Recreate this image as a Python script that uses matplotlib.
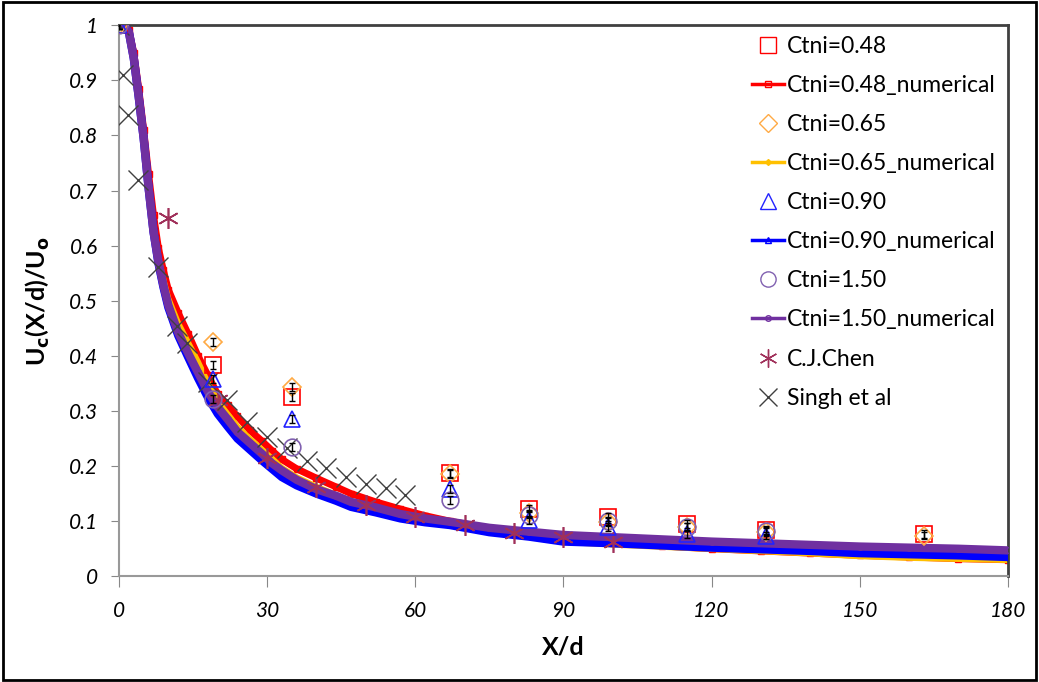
import numpy as np
import matplotlib.pyplot as plt
from matplotlib.lines import Line2D
from matplotlib.patches import Rectangle

plt.rcParams['font.family'] = ['Lato', 'DejaVu Sans']

# ---------------- data ----------------
x_exp = [0, 19, 35, 67, 83, 99, 115, 131, 163]
y_048 = [1.0, 0.383, 0.325, 0.187, 0.123, 0.108, 0.095, 0.084, 0.077]
y_065 = [1.0, 0.425, 0.344, 0.185, 0.114, 0.099, 0.090, 0.080, 0.074]
x_exp7 = [0, 19, 35, 67, 83, 99, 115, 131]
y_090 = [1.0, 0.358, 0.286, 0.159, 0.102, 0.090, 0.077, 0.074]
y_150 = [1.0, 0.322, 0.235, 0.138, 0.112, 0.100, 0.089, 0.082]

x_num = [0, 1, 2, 3, 4, 5, 6, 7, 8, 9, 10, 12, 14, 16, 18, 20, 22, 24, 26.5, 29, 31, 33,
         36, 40, 44, 47, 52, 57, 62, 67, 75, 83, 90, 100, 110, 120, 130, 140, 150, 160, 170, 180]
y_048_num = [1.0, 1.0, 0.992, 0.95, 0.885, 0.81, 0.73, 0.655, 0.595, 0.555, 0.52, 0.478, 0.44,
             0.40, 0.365, 0.33, 0.31, 0.29, 0.265, 0.245, 0.228, 0.212, 0.195, 0.178, 0.162,
             0.150, 0.135, 0.122, 0.110, 0.100, 0.087, 0.076, 0.066, 0.060, 0.055, 0.050,
             0.046, 0.042, 0.038, 0.035, 0.032, 0.030]
y_065_num = [1.0, 1.0, 0.99, 0.945, 0.878, 0.80, 0.715, 0.638, 0.58, 0.54, 0.505, 0.46, 0.425,
             0.39, 0.352, 0.318, 0.295, 0.272, 0.25, 0.23, 0.214, 0.197, 0.18, 0.163, 0.148,
             0.137, 0.123, 0.111, 0.101, 0.094, 0.081, 0.071, 0.062, 0.057, 0.053, 0.049,
             0.045, 0.041, 0.036, 0.033, 0.031, 0.029]
y_090_num = [1.0, 1.0, 0.988, 0.94, 0.87, 0.795, 0.705, 0.625, 0.568, 0.525, 0.488, 0.437, 0.398,
             0.36, 0.325, 0.295, 0.272, 0.25, 0.23, 0.21, 0.195, 0.18, 0.165, 0.150, 0.137,
             0.126, 0.116, 0.105, 0.098, 0.093, 0.080, 0.072, 0.063, 0.060, 0.056, 0.052,
             0.049, 0.046, 0.042, 0.040, 0.038, 0.035]
y_150_num = [1.0, 1.0, 0.988, 0.94, 0.87, 0.795, 0.705, 0.625, 0.57, 0.528, 0.492, 0.442, 0.405,
             0.37, 0.335, 0.307, 0.285, 0.262, 0.242, 0.222, 0.205, 0.192, 0.175, 0.158, 0.146,
             0.135, 0.125, 0.113, 0.105, 0.099, 0.088, 0.081, 0.075, 0.071, 0.067, 0.063,
             0.060, 0.057, 0.054, 0.052, 0.050, 0.047]

x_chen = [10, 20, 30, 40, 50, 60, 70, 80, 90, 100]
y_chen = [0.65, 0.32, 0.214, 0.162, 0.129, 0.107, 0.093, 0.078, 0.071, 0.062]

x_singh = [0, 0.9, 1.9, 3.9, 8, 11.7, 13.7, 18.1, 21.8, 26, 30, 34, 38, 42, 46, 50, 54, 58]
y_singh = [1.0, 0.91, 0.837, 0.719, 0.561, 0.455, 0.423, 0.353, 0.32, 0.28, 0.252, 0.232,
           0.21, 0.196, 0.18, 0.168, 0.16, 0.147]

err = 0.007

# ---------------- figure ----------------
fig = plt.figure(figsize=(10.39, 6.82), dpi=100)
ax = fig.add_axes([0.1145, 0.155, 0.8555, 0.808])

# experimental squares + numerical red
ax.errorbar(x_exp, y_048, yerr=err, fmt='none', ecolor='black', elinewidth=1, capsize=2.5, zorder=6)
ax.plot(x_exp, y_048, 's', mfc='none', mec='#ff0000', ms=12, mew=1.2, zorder=5)
ax.plot(x_num, y_048_num, '-', color='#ff0000', lw=5, zorder=2)
ax.plot(x_num, y_048_num, 's', mfc='none', mec='#ff0000', ms=4, zorder=2)

ax.errorbar(x_exp, y_065, yerr=err, fmt='none', ecolor='black', elinewidth=1, capsize=2.5, zorder=6)
ax.plot(x_exp, y_065, 'D', mfc='none', mec='#ffaa44', ms=9, mew=1.2, zorder=5)
ax.plot(x_num, y_065_num, '-', color='#ffc000', lw=4, zorder=2)

ax.errorbar(x_exp7, y_090, yerr=err, fmt='none', ecolor='black', elinewidth=1, capsize=2.5, zorder=6)
ax.plot(x_exp7, y_090, '^', mfc='none', mec='#2222ff', ms=12, mew=1.2, zorder=5)
ax.plot(x_num, y_090_num, '-', color='#0000ff', lw=6, zorder=3)

ax.errorbar(x_exp7, y_150, yerr=err, fmt='none', ecolor='black', elinewidth=1, capsize=2.5, zorder=6)
ax.plot(x_exp7, y_150, 'o', mfc='none', mec='#8060b0', ms=12, mew=1.2, zorder=5)
ax.plot(x_num, y_150_num, '-', color='#7030a0', lw=6, zorder=3)
ax.plot(x_num, y_150_num, 'o', mfc='none', mec='#7030a0', ms=4, zorder=3)

ax.plot(x_chen, y_chen, ls='none', marker=(6, 2, 0), ms=15, mec='#a0305a', mew=1.2, zorder=4)
ax.plot(x_singh, y_singh, 'x', ms=15, mec='#404040', mew=1.0, zorder=4)

ax.set_xlim(0, 180)
ax.set_ylim(0, 1)
ax.set_xticks(np.arange(0, 181, 30))
ax.set_yticks(np.arange(0, 1.01, 0.1))
ax.set_yticklabels(['0', '0.1', '0.2', '0.3', '0.4', '0.5', '0.6', '0.7', '0.8', '0.9', '1'])
for lab in ax.get_xticklabels() + ax.get_yticklabels():
    lab.set_fontstyle('italic')
    lab.set_fontsize(15)
ax.tick_params(axis='y', direction='out', length=6, color='#888888', pad=9)
ax.tick_params(axis='x', direction='out', length=8, color='#888888', pad=10)

for s in ['left', 'bottom']:
    ax.spines[s].set_color('#999999')
    ax.spines[s].set_linewidth(1.5)
for s in ['top', 'right']:
    ax.spines[s].set_color('#404040')
    ax.spines[s].set_linewidth(2)

ax.set_xlabel('X/d', fontsize=18, fontweight='bold', labelpad=10)
ax.set_ylabel(r'U$_\mathbf{c}$(X/d)/U$_\mathbf{o}$', fontsize=18, fontweight='bold', labelpad=12)

handles = [
    Line2D([], [], ls='none', marker='s', mfc='none', mec='#ff0000', ms=11),
    Line2D([], [], color='#ff0000', lw=2.5, marker='s', mfc='none', mec='#ff0000', ms=4),
    Line2D([], [], ls='none', marker='D', mfc='none', mec='#ffaa44', ms=9),
    Line2D([], [], color='#ffc000', lw=2.5, marker='D', mfc='#ffc000', ms=3),
    Line2D([], [], ls='none', marker='^', mfc='none', mec='#2222ff', ms=11),
    Line2D([], [], color='#0000ff', lw=2.5, marker='^', mfc='none', mec='#0000ff', ms=4),
    Line2D([], [], ls='none', marker='o', mfc='none', mec='#8060b0', ms=11),
    Line2D([], [], color='#7030a0', lw=2.5, marker='o', mfc='none', mec='#7030a0', ms=4),
    Line2D([], [], ls='none', marker=(6, 2, 0), mec='#a0305a', ms=13),
    Line2D([], [], ls='none', marker='x', mec='#404040', ms=13),
]
labels = ['Ctni=0.48', 'Ctni=0.48_numerical', 'Ctni=0.65', 'Ctni=0.65_numerical',
          'Ctni=0.90', 'Ctni=0.90_numerical', 'Ctni=1.50', 'Ctni=1.50_numerical',
          'C.J.Chen', 'Singh et al']
ax.legend(handles, labels, loc='upper right', bbox_to_anchor=(1.005, 1.01), frameon=False,
          fontsize=16.5, handlelength=1.4, handletextpad=0.15, labelspacing=0.79, borderaxespad=0.3)

fig.patches.append(Rectangle((0.003, 0.003), 0.994, 0.994, transform=fig.transFigure,
                             fill=False, edgecolor='black', lw=2))

fig.savefig('out.png', dpi=100)
